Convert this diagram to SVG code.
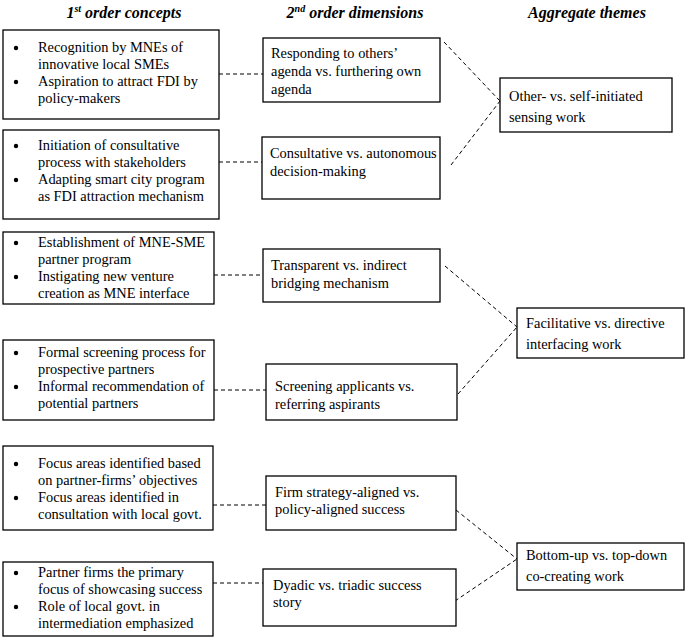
<svg xmlns="http://www.w3.org/2000/svg" width="685" height="640" viewBox="0 0 685 640">
<style>
.box{fill:#fff;stroke:#000;stroke-width:1.3}
.t{font-family:"Liberation Serif",serif;font-size:14.4px;fill:#000}
.h{font-family:"Liberation Serif",serif;font-size:16px;font-weight:bold;font-style:italic;fill:#000}
.c{stroke:#000;stroke-width:1;stroke-dasharray:4,3;fill:none}
.dot{fill:#000}
</style>
<rect width="685" height="640" fill="#fff"/>
<g id="headers">
<text class="h" x="124" y="18" text-anchor="middle">1<tspan font-size="10" dy="-6">st</tspan><tspan dy="6"> order concepts</tspan></text>
<text class="h" x="355" y="18" text-anchor="middle">2<tspan font-size="10" dy="-6">nd</tspan><tspan dy="6"> order dimensions</tspan></text>
<text class="h" x="587" y="18" text-anchor="middle">Aggregate themes</text>
</g>
<g id="connectors">
<line class="c" x1="219" y1="74" x2="263" y2="74"/>
<line class="c" x1="219" y1="162" x2="262" y2="162"/>
<line class="c" x1="214" y1="275" x2="263" y2="275"/>
<line class="c" x1="214" y1="390" x2="266" y2="390"/>
<line class="c" x1="213" y1="505" x2="266" y2="505"/>
<line class="c" x1="213" y1="583" x2="263" y2="583"/>
<line class="c" x1="444" y1="42" x2="500" y2="101"/>
<line class="c" x1="451" y1="165" x2="500" y2="101"/>
<line class="c" x1="445" y1="266" x2="517" y2="327"/>
<line class="c" x1="458" y1="394" x2="517" y2="327"/>
<line class="c" x1="456" y1="510" x2="517" y2="559"/>
<line class="c" x1="455" y1="601" x2="517" y2="559"/>
</g>
<g id="c1">
<rect class="box" x="3" y="30" width="216" height="89"/>
<circle class="dot" cx="16" cy="48" r="2.2"/><circle class="dot" cx="16" cy="82" r="2.2"/>
<text class="t" x="38" y="52">Recognition by MNEs of</text>
<text class="t" x="38" y="69">innovative local SMEs</text>
<text class="t" x="38" y="86">Aspiration to attract FDI by</text>
<text class="t" x="38" y="103">policy-makers</text>
</g>
<g id="c2">
<rect class="box" x="3" y="130" width="216" height="89"/>
<circle class="dot" cx="16" cy="146" r="2.2"/><circle class="dot" cx="16" cy="180" r="2.2"/>
<text class="t" x="38" y="150">Initiation of consultative</text>
<text class="t" x="38" y="167">process with stakeholders</text>
<text class="t" x="38" y="184">Adapting smart city program</text>
<text class="t" x="38" y="201">as FDI attraction mechanism</text>
</g>
<g id="c3">
<rect class="box" x="3" y="232" width="211" height="72"/>
<circle class="dot" cx="16" cy="243" r="2.2"/><circle class="dot" cx="16" cy="277" r="2.2"/>
<text class="t" x="38" y="247">Establishment of MNE-SME</text>
<text class="t" x="38" y="264">partner program</text>
<text class="t" x="38" y="281">Instigating new venture</text>
<text class="t" x="38" y="298">creation as MNE interface</text>
</g>
<g id="c4">
<rect class="box" x="3" y="340" width="211" height="80"/>
<circle class="dot" cx="16" cy="353" r="2.2"/><circle class="dot" cx="16" cy="387" r="2.2"/>
<text class="t" x="38" y="357">Formal screening process for</text>
<text class="t" x="38" y="374">prospective partners</text>
<text class="t" x="38" y="391">Informal recommendation of</text>
<text class="t" x="38" y="408">potential partners</text>
</g>
<g id="c5">
<rect class="box" x="3" y="446" width="210" height="84"/>
<circle class="dot" cx="16" cy="464" r="2.2"/><circle class="dot" cx="16" cy="498" r="2.2"/>
<text class="t" x="38" y="468">Focus areas identified based</text>
<text class="t" x="38" y="485">on partner-firms’ objectives</text>
<text class="t" x="38" y="502">Focus areas identified in</text>
<text class="t" x="38" y="519">consultation with local govt.</text>
</g>
<g id="c6">
<rect class="box" x="3" y="562" width="210" height="74"/>
<circle class="dot" cx="16" cy="573" r="2.2"/><circle class="dot" cx="16" cy="607" r="2.2"/>
<text class="t" x="38" y="577">Partner firms the primary</text>
<text class="t" x="38" y="594">focus of showcasing success</text>
<text class="t" x="38" y="611">Role of local govt. in</text>
<text class="t" x="38" y="628">intermediation emphasized</text>
</g>
<g id="d1">
<rect class="box" x="263" y="38" width="177" height="64"/>
<text class="t" x="271" y="58">Responding to others’</text>
<text class="t" x="271" y="76">agenda vs. furthering own</text>
<text class="t" x="271" y="94">agenda</text>
</g>
<g id="d2">
<rect class="box" x="262" y="137" width="178" height="62"/>
<text class="t" x="270" y="158">Consultative vs. autonomous</text>
<text class="t" x="270" y="176">decision-making</text>
</g>
<g id="d3">
<rect class="box" x="263" y="249" width="177" height="53"/>
<text class="t" x="271" y="270">Transparent vs. indirect</text>
<text class="t" x="271" y="288">bridging mechanism</text>
</g>
<g id="d4">
<rect class="box" x="266" y="364" width="191" height="56"/>
<text class="t" x="275" y="391">Screening applicants vs.</text>
<text class="t" x="275" y="409">referring aspirants</text>
</g>
<g id="d5">
<rect class="box" x="266" y="476" width="190" height="54"/>
<text class="t" x="275" y="497">Firm strategy-aligned vs.</text>
<text class="t" x="275" y="514">policy-aligned success</text>
</g>
<g id="d6">
<rect class="box" x="263" y="569" width="193" height="57"/>
<text class="t" x="273" y="590">Dyadic vs. triadic success</text>
<text class="t" x="273" y="607">story</text>
</g>
<g id="a1">
<rect class="box" x="500" y="78" width="172" height="54"/>
<text class="t" x="509" y="101">Other- vs. self-initiated</text>
<text class="t" x="509" y="122">sensing work</text>
</g>
<g id="a2">
<rect class="box" x="517" y="308" width="167" height="50"/>
<text class="t" x="526" y="328">Facilitative vs. directive</text>
<text class="t" x="526" y="349">interfacing work</text>
</g>
<g id="a3">
<rect class="box" x="517" y="543" width="167" height="47"/>
<text class="t" x="526" y="560">Bottom-up vs. top-down</text>
<text class="t" x="526" y="581">co-creating work</text>
</g>
</svg>
